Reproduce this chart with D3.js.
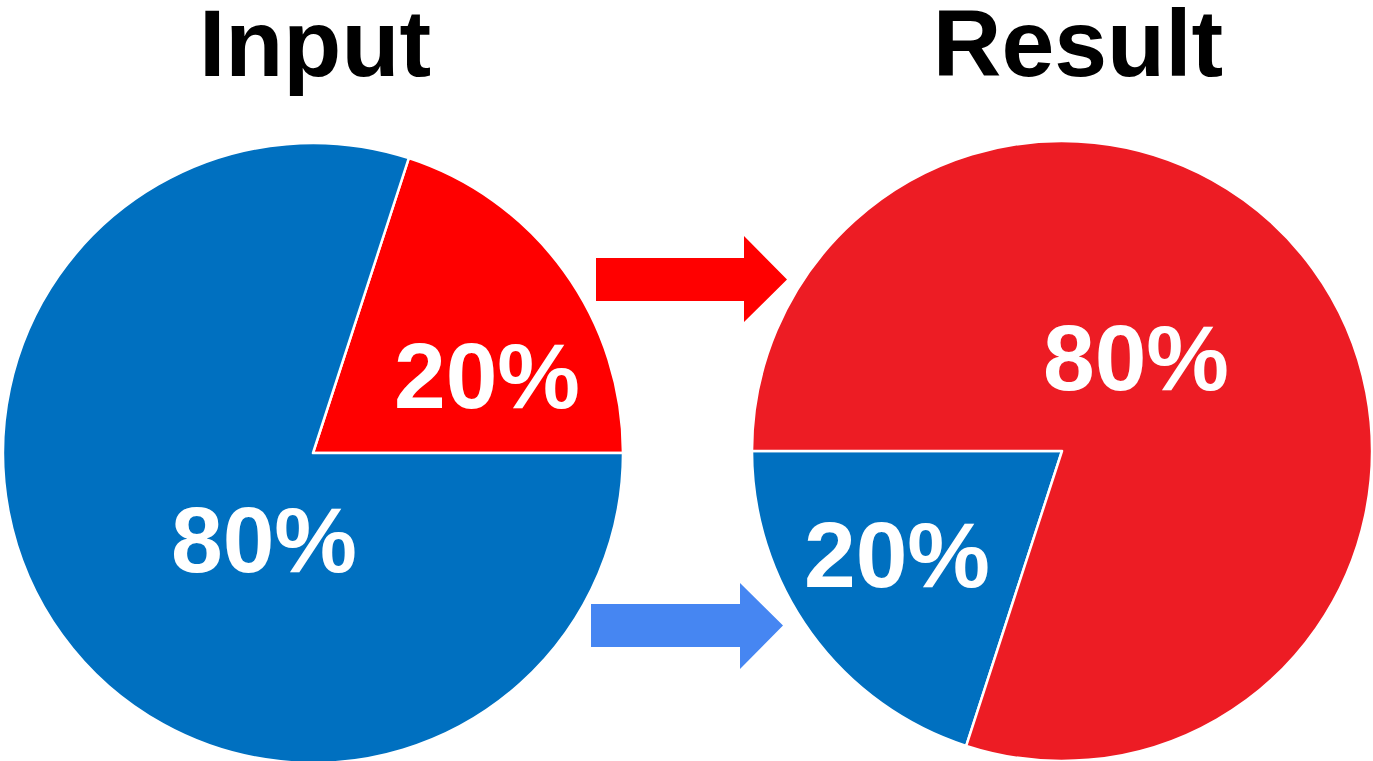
<!DOCTYPE html>
<html>
<head>
<meta charset="utf-8">
<script src="https://cdn.jsdelivr.net/npm/d3@7"></script>
<style>
    body { margin: 0; background: #fff; }
    svg { display: block; }
    .title { font-family: "Liberation Sans", Arial, sans-serif; font-weight: bold; font-size: 95px; fill: #000; text-anchor: middle; }
    .pct { font-family: "Liberation Sans", Arial, sans-serif; font-weight: bold; font-size: 93px; fill: #fff; text-anchor: middle; }
</style>
</head>
<body>
<div class="graph_container"></div>
<script>
// data
const pieTitles = ["Input", "Result"];
const inputNames = ["Red", "Blue"];
const inputValues = [20, 80];
const resultNames = ["Blue", "Red"];
const resultValues = [20, 80];

document.addEventListener("DOMContentLoaded", () => {
    const width = 1373;
    const height = 761;
    const radius = 310;

    const svg = d3.select(".graph_container").append("svg").attr("width", width).attr("height", height);

    const arc = d3.arc().innerRadius(0).outerRadius(radius);
    const deg = Math.PI / 180;

    //^ one pie per panel
    const panels = [
        {
            title: pieTitles[0], cx: 313, cy: 453, titleX: 315, start: 18,
            names: inputNames, values: inputValues,
            colors: { Red: "#ff0000", Blue: "#0070c0" },
            labelPos: [[487, 408], [264, 572]]
        },
        {
            title: pieTitles[1], cx: 1062, cy: 451, titleX: 1078, start: 198,
            names: resultNames, values: resultValues,
            colors: { Red: "#ed1c24", Blue: "#0070c0" },
            labelPos: [[897, 587], [1136, 390]]
        }
    ];

    panels.forEach((p) => {
        const pie = d3.pie().sort(null).startAngle(p.start * deg).endAngle(p.start * deg + 2 * Math.PI);
        const data = pie(p.values);

        const g = svg.append("g").attr("transform", "translate(" + p.cx + "," + p.cy + ")");
        g.selectAll("path")
            .data(data)
            .enter()
            .append("path")
            .attr("d", arc)
            .attr("fill", (d, i) => p.colors[p.names[i]])
            .attr("stroke", "#fff")
            .attr("stroke-width", 2.5)
            .attr("stroke-linejoin", "round");

        svg.selectAll(null)
            .data(p.values)
            .enter()
            .append("text")
            .attr("class", "pct")
            .attr("x", (d, i) => p.labelPos[i][0])
            .attr("y", (d, i) => p.labelPos[i][1])
            .text((d) => d + "%");

        svg.append("text").attr("class", "title").attr("x", p.titleX).attr("y", 76).text(p.title);
    });

    //^ arrows between the pies
    const arrow = (x0, x1, xTip, yTop, yBot, headTop, headBot, color) => {
        const mid = (yTop + yBot) / 2;
        const pts = [[x0, yTop], [x1, yTop], [x1, headTop], [xTip, mid], [x1, headBot], [x1, yBot], [x0, yBot]];
        svg.append("path").attr("d", d3.line()(pts) + "Z").attr("fill", color);
    };
    arrow(596, 744, 787, 258, 301, 236, 322, "#ff0000");
    arrow(591, 740, 783, 604, 647, 583, 669, "#4686f2");
});
</script>
</body>
</html>
